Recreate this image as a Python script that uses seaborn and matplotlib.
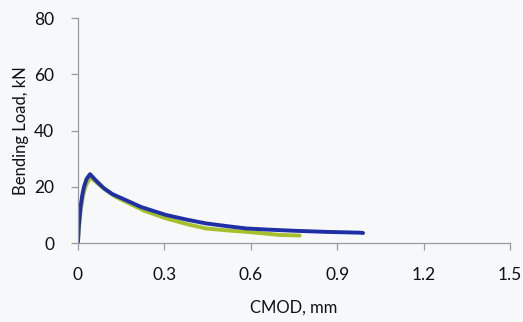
import matplotlib
matplotlib.use("Agg")
import matplotlib.pyplot as plt
import seaborn as sns
import pandas as pd

# Data
cmod_blue = [0.0, 0.003, 0.009, 0.015, 0.021, 0.03, 0.042, 0.06, 0.09, 0.12, 0.166, 0.22, 0.306, 0.38, 0.445, 0.52, 0.585, 0.66, 0.747, 0.86, 0.98, 0.99]
load_blue = [0.0, 6.0, 12.9, 17.0, 20.0, 22.8, 24.5, 22.5, 19.5, 17.4, 15.3, 12.8, 10.0, 8.3, 7.0, 6.0, 5.2, 4.8, 4.4, 4.0, 3.7, 3.6]
cmod_green = [0.0, 0.004, 0.01, 0.018, 0.026, 0.035, 0.046, 0.065, 0.1, 0.13, 0.166, 0.23, 0.306, 0.38, 0.445, 0.52, 0.585, 0.65, 0.7, 0.77]
load_green = [0.0, 6.0, 12.0, 17.0, 20.0, 22.0, 23.2, 21.5, 18.6, 16.5, 14.7, 11.5, 8.8, 6.7, 5.2, 4.5, 4.0, 3.4, 2.9, 2.7]
x_ticks = [0, 0.3, 0.6, 0.9, 1.2, 1.5]
x_tick_labels = ["0", "0.3", "0.6", "0.9", "1.2", "1.5"]
y_ticks = [0, 20, 40, 60, 80]

sns.set_theme(style="ticks")
plt.rcParams["font.family"] = ["Lato", "DejaVu Sans"]

fig = plt.figure(figsize=(5.23, 3.22), dpi=100)
fig.patch.set_facecolor("#f7f8fa")
ax = fig.add_axes([0.149, 0.245, 0.826, 0.699])
ax.set_facecolor("#f7f8fa")

df_g = pd.DataFrame({"x": cmod_green, "y": load_green})
df_b = pd.DataFrame({"x": cmod_blue, "y": load_blue})
sns.lineplot(data=df_g, x="x", y="y", ax=ax, color="#a6bf2c", linewidth=2.8, sort=False)
sns.lineplot(data=df_b, x="x", y="y", ax=ax, color="#1f2fa6", linewidth=2.8, sort=False)

ax.set_xlim(0, 1.5)
ax.set_ylim(0, 80)
ax.set_xticks(x_ticks)
ax.set_xticklabels(x_tick_labels)
ax.set_yticks(y_ticks)
for s in ["top", "right"]:
    ax.spines[s].set_visible(False)
for s in ["left", "bottom"]:
    ax.spines[s].set_color("#9a9a9a")
    ax.spines[s].set_linewidth(0.9)
ax.tick_params(axis="both", colors="#9a9a9a", labelcolor="#111111", labelsize=12.5, length=5, width=0.9)
ax.tick_params(axis="x", pad=12)
ax.tick_params(axis="y", pad=12)
ax.set_xlabel("CMOD, mm", fontsize=12, color="#111111", labelpad=12)
ax.set_ylabel("Bending Load, kN", fontsize=12, color="#111111", labelpad=4)

fig.savefig("out.png", dpi=100, facecolor=fig.get_facecolor())
